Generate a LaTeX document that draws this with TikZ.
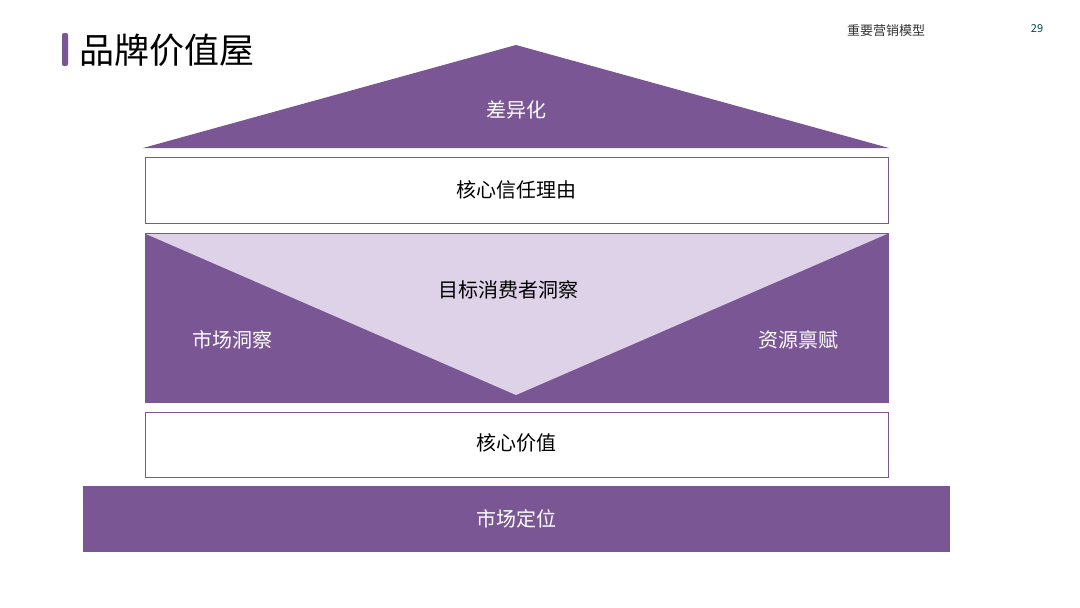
\documentclass[tikz,border=0pt]{standalone}
\usepackage{fontspec}
\setmainfont{Noto Sans CJK SC}
\definecolor{pur}{HTML}{7A5694}
\definecolor{lav}{HTML}{DED2E8}
\begin{document}
\begin{tikzpicture}[x=1pt,y=-1pt,
  lbl/.style={font=\fontsize{20}{23}\selectfont, inner sep=0pt},
  wbox/.style={draw=pur, line width=0.8pt, fill=white},
  pbox/.style={fill=pur, draw=pur}]
\useasboundingbox (0,0) rectangle (1080,608);
\fill[white] (0,0) rectangle (1080,608);
% title
\fill[pur, rounded corners=2pt] (62,33) rectangle (68,66);
\node[anchor=west, font=\fontsize{35}{40}\selectfont, inner sep=0pt] (title) at (79,50) {品牌价值屋};
\node[font=\fontsize{13}{15}\selectfont, inner sep=0pt, text=black!80] (sec) at (886,31) {重要营销模型};
\node[font=\fontsize{11}{13}\selectfont\itshape, inner sep=0pt, text=teal!60!black] (pg) at (1037,29) {29};
% roof
\fill[pur] (516,45) -- (889,148) -- (143,148) -- cycle;
\node[lbl, text=white] (roof) at (516,110) {差异化};
% trust box
\draw[wbox] (145,157) rectangle (888,223);
\node[lbl] (trust) at (516,190) {核心信任理由};
% middle
\draw[pbox] (145,233) rectangle (888,402);
\fill[lav] (146,234) -- (887,234) -- (516,395) -- cycle;
\node[lbl] (insight) at (508,290) {目标消费者洞察};
\node[lbl, text=white] (market) at (232,340) {市场洞察};
\node[lbl, text=white] (res) at (798,340) {资源禀赋};
% core value
\draw[wbox] (145,412) rectangle (888,477);
\node[lbl] (core) at (516,443) {核心价值};
% base
\draw[pbox] (83,486) rectangle (949,551);
\node[lbl, text=white] (pos) at (516,519) {市场定位};
\end{tikzpicture}
\end{document}
